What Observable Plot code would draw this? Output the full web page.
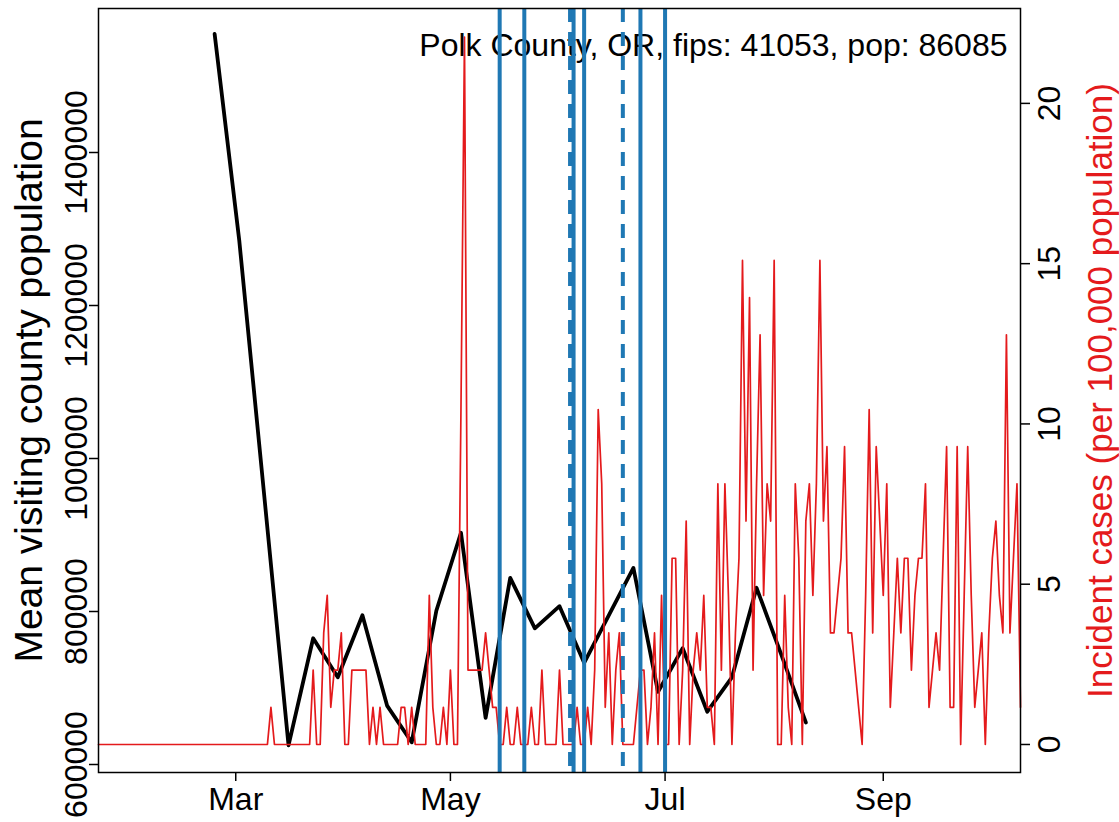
<!DOCTYPE html>
<html>
<head>
<meta charset="utf-8">
<script src="https://cdn.jsdelivr.net/npm/d3@7"></script>
<script src="https://cdn.jsdelivr.net/npm/@observablehq/plot@0.6"></script>
<style>
  html, body { margin: 0; padding: 0; background: #ffffff; }
  #chart { position: relative; width: 1119px; height: 822px; }
  #chart svg { position: absolute; left: 0; top: 0; }
</style>
</head>
<body>
<div id="chart"></div>
<script>
// ---- Data ----
const titleText = "Polk County, OR, fips: 41053, pop: 86085";
const leftLabel = "Mean visiting county population";
const rightLabel = "Incident cases (per 100,000 population)";

// weekly mean visiting county population (black line)
const mobilityWeeks = ["2020-02-24","2020-03-02","2020-03-09","2020-03-16","2020-03-23","2020-03-30",
  "2020-04-06","2020-04-13","2020-04-20","2020-04-27","2020-05-04","2020-05-11","2020-05-18",
  "2020-05-25","2020-06-01","2020-06-08","2020-06-15","2020-06-22","2020-06-29","2020-07-06",
  "2020-07-13","2020-07-20","2020-07-27","2020-08-03","2020-08-10"];
const mobilityMean = [1555000,1285000,956000,625000,765000,714000,
  795000,677000,629000,801000,903000,661000,844000,
  778000,807000,733000,795000,857000,695000,752000,
  669000,714000,831000,744000,655000];

// daily incident cases per 100,000 (red line), one array per month
const incJan = [0,0,0,0,0,0,0,0,0,0]; // from Jan 22
const incFeb = [0,0,0,0,0,0,0,0,0,0,0,0,0,0,0,0,0,0,0,0,0,0,0,0,0,0,0,0,0];
const incMar = [0,0,0,0,0,0,0,0,0,0,1.16,0,0,0,0,0,0,0,0,0,0,0,2.32,0,0,3.48,4.65,1.16,2.32,2.32,3.48];
const incApr = [0,0,2.32,2.32,2.32,2.32,2.32,0,1.16,0,1.16,0,0,0,0,0,1.16,1.16,0,1.16,0,0,0,0,4.65,1.16,0,0,1.16,0];
const incMay = [2.32,0,0,10.45,22.07,2.32,2.32,2.32,2.32,2.32,3.48,2.32,1.16,1.16,0,0,1.16,0,0,1.16,0,0,0,1.16,0,0,2.32,0,0,0,0];
const incJun = [2.32,0,0,0,0,1.16,0,0,1.16,0,2.32,10.45,8.13,1.16,3.48,0,2.32,3.48,0,0,0,0,1.16,2.32,2.32,0,1.16,3.48,0,4.65];
const incJul = [0,0,5.81,5.81,0,2.32,6.97,0,2.32,3.48,2.32,4.65,1.16,1.16,0,8.13,2.32,8.13,4.65,0,3.48,5.81,15.10,6.97,13.94,2.32,8.13,12.78,4.65,8.13,6.97];
const incAug = [15.10,0,0,4.65,1.16,0,8.13,5.81,0,6.97,8.13,4.65,8.13,15.10,6.97,9.29,3.48,3.48,4.65,5.81,9.29,3.48,3.48,2.32,1.16,0,4.65,10.45,3.48,9.29,6.97];
const incSep = [4.65,8.13,1.16,3.48,5.81,3.48,5.81,5.81,2.32,4.65,5.81,5.81,8.13,1.16,2.32,3.48,2.32,5.81,9.29,1.16,1.16,9.29,0,4.65,9.29,4.65,1.16,2.32,3.48,0];
const incOct = [3.48,5.81,6.97,4.65,3.48,12.78,3.48,5.81,8.13,1.16];

// policy dates (blue vertical lines)
const policySolid = ["2020-05-15","2020-05-22","2020-06-05","2020-06-08","2020-06-24","2020-07-01"];
const policyDashed = ["2020-06-04","2020-06-19"];

// axes
const xDomain = ["2020-01-22","2020-10-10"];
const monthTicks = ["2020-03-01","2020-05-01","2020-07-01","2020-09-01"];
const leftTicks = [600000, 800000, 1000000, 1200000, 1400000];
const rightTicks = [0, 5, 10, 15, 20];
const leftDomain = [589542, 1588235];
const rightDomain = [-0.874, 22.96];

// ---- Build tables ----
const parse = d3.utcParse("%Y-%m-%d");
const mobility = mobilityWeeks.map((d, i) => ({date: parse(d), value: mobilityMean[i]}));
const monthly = [
  ["2020-01-22", incJan], ["2020-02-01", incFeb], ["2020-03-01", incMar], ["2020-04-01", incApr],
  ["2020-05-01", incMay], ["2020-06-01", incJun], ["2020-07-01", incJul], ["2020-08-01", incAug],
  ["2020-09-01", incSep], ["2020-10-01", incOct]
];
const incidence = monthly.flatMap(([start, vals]) =>
  vals.map((v, i) => ({date: d3.utcDay.offset(parse(start), i), value: v})));
const solidDates = policySolid.map(parse);
const dashedDates = policyDashed.map(parse);

const W = 1119, H = 822;
const common = {
  width: W, height: H,
  marginLeft: 98, marginRight: 99, marginTop: 8, marginBottom: 50,
  style: {fontFamily: "'Liberation Sans', Arial, Helvetica, sans-serif", fontSize: "32px", background: "transparent", color: "black", overflow: "visible"}
};
const RED = "#e41a1c", BLUE = "#1f78b4";

const plotA = Plot.plot({
  ...common,
  x: {type: "utc", domain: xDomain.map(parse), label: null},
  y: {domain: leftDomain, label: null},
  marks: [
    Plot.text([titleText], {frameAnchor: "top-right", text: d => d, textAnchor: "end", lineAnchor: "top", dx: -13, dy: 25, fill: "black", fontSize: 32}),
    Plot.text([leftLabel], {frameAnchor: "left", text: d => d, rotate: -90, textAnchor: "middle", lineAnchor: "bottom", dx: -57, fill: "black", fontSize: 39}),
    Plot.axisX({ticks: monthTicks.map(parse), tickFormat: d3.utcFormat("%b"), tickSize: 9, tickPadding: 6, strokeWidth: 1.5, label: null}),
    Plot.axisY({ticks: leftTicks, tickFormat: d3.format("d"), tickSize: 9, tickRotate: -90, strokeWidth: 1.5, label: null}),
    Plot.lineY(mobility, {x: "date", y: "value", stroke: "black", strokeWidth: 3.8, strokeLinejoin: "round", strokeLinecap: "round"}),
  ]
});

const plotB = Plot.plot({
  ...common,
  x: {type: "utc", domain: xDomain.map(parse), label: null, axis: null},
  y: {domain: rightDomain, label: null},
  marks: [
    Plot.lineY(incidence, {x: "date", y: "value", stroke: RED, strokeWidth: 1.7, strokeLinejoin: "round"}),
    Plot.ruleX(dashedDates, {stroke: BLUE, strokeWidth: 4, strokeDasharray: "14,10"}),
    Plot.ruleX(solidDates, {stroke: BLUE, strokeWidth: 4}),
    Plot.axisY({anchor: "right", ticks: rightTicks, tickFormat: d3.format("d"), tickSize: 9, tickRotate: -90, lineAnchor: "top", tickPadding: 8, strokeWidth: 1.5, label: null}),
    Plot.text([rightLabel], {frameAnchor: "right", text: d => d, rotate: -90, textAnchor: "middle", lineAnchor: "bottom", dx: 91, fill: RED, fontSize: 35}),
    Plot.frame({stroke: "black", strokeWidth: 1.5})
  ]
});

const chart = document.getElementById("chart");
chart.appendChild(plotA);
chart.appendChild(plotB);
</script>
</body>
</html>
